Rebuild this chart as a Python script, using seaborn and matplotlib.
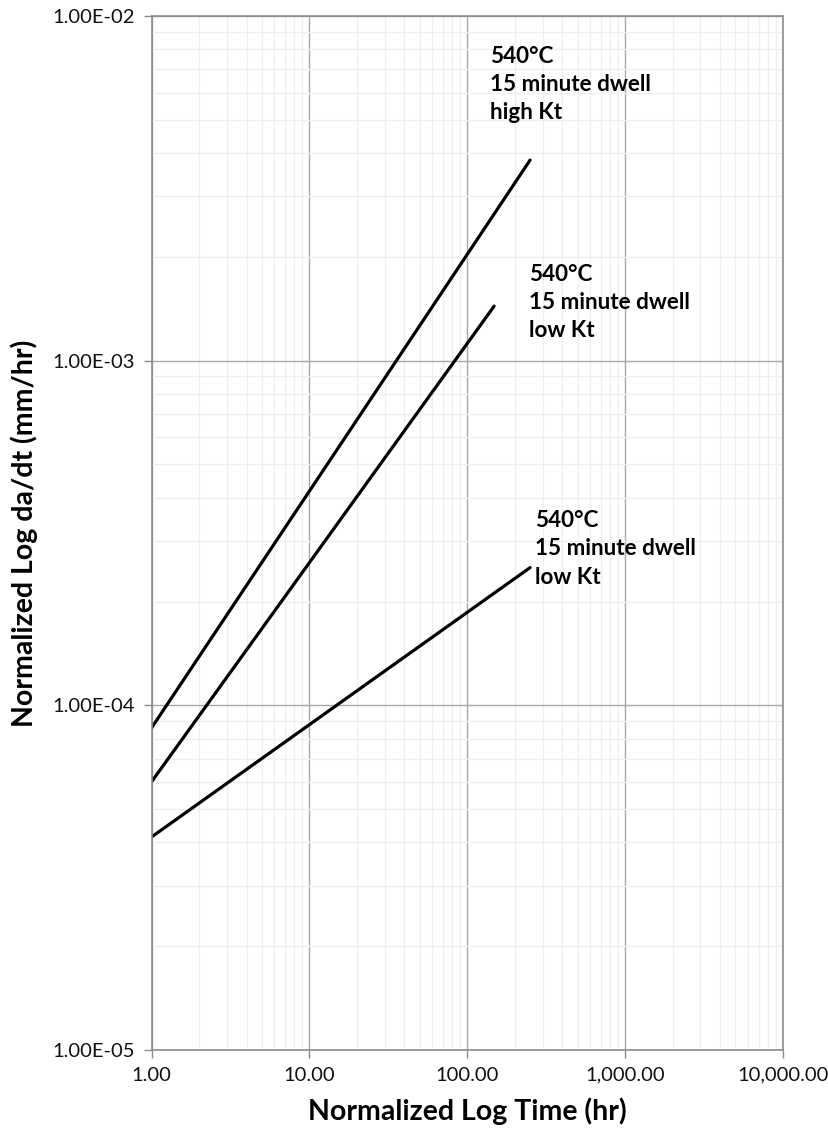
import matplotlib
matplotlib.use("Agg")
import numpy as np
import pandas as pd
import matplotlib.pyplot as plt
import seaborn as sns
from matplotlib.ticker import FixedLocator, FixedFormatter, LogLocator, NullFormatter

# Crack growth rate curves (power-law lines on log-log axes)
curve_names = ["high Kt", "low Kt A", "low Kt B"]
time_start = [1.0, 1.0, 1.0]
time_end = [250.0, 148.0, 250.0]
rate_start = [8.6e-5, 6.0e-5, 4.15e-5]
rate_end = [3.82e-3, 1.44e-3, 2.51e-4]

curve_labels = [
    "540°C\n15 minute dwell\nhigh Kt",
    "540°C\n15 minute dwell\nlow Kt",
    "540°C\n15 minute dwell\nlow Kt",
]

x_ticks = [1, 10, 100, 1000, 10000]
x_ticklabels = ["1.00", "10.00", "100.00", "1,000.00", "10,000.00"]
y_ticks = [1e-5, 1e-4, 1e-3, 1e-2]
y_ticklabels = ["1.00E-05", "1.00E-04", "1.00E-03", "1.00E-02"]

rows = []
for name, t0, t1, r0, r1 in zip(curve_names, time_start, time_end, rate_start, rate_end):
    rows.append({"curve": name, "time": t0, "rate": r0})
    rows.append({"curve": name, "time": t1, "rate": r1})
df = pd.DataFrame(rows)

sns.set_style("white")
plt.rcParams["font.family"] = ["Lato", "DejaVu Sans"]
plt.rcParams["text.color"] = "black"
plt.rcParams["axes.labelcolor"] = "black"

fig = plt.figure(figsize=(8.29, 11.3), dpi=100)
ax = fig.add_axes([0.1828, 0.0708, 0.7617, 0.915])

sns.lineplot(data=df, x="time", y="rate", units="curve", estimator=None,
             color="black", linewidth=2.3, ax=ax, legend=False)

ax.set_xscale("log")
ax.set_yscale("log")
ax.set_xlim(1, 10000)
ax.set_ylim(1e-5, 1e-2)

ax.xaxis.set_major_locator(FixedLocator(x_ticks))
ax.xaxis.set_major_formatter(FixedFormatter(x_ticklabels))
ax.yaxis.set_major_locator(FixedLocator(y_ticks))
ax.yaxis.set_major_formatter(FixedFormatter(y_ticklabels))
ax.xaxis.set_minor_locator(LogLocator(base=10, subs=np.arange(2, 10)))
ax.yaxis.set_minor_locator(LogLocator(base=10, subs=np.arange(2, 10)))
ax.xaxis.set_minor_formatter(NullFormatter())
ax.yaxis.set_minor_formatter(NullFormatter())

ax.grid(which="minor", color="#eeeeee", linewidth=0.9)
ax.grid(which="major", color="#a8a8a8", linewidth=1.0)
ax.set_axisbelow(True)

for s in ax.spines.values():
    s.set_color("#8c8c8c")
    s.set_linewidth(1.2)
ax.tick_params(which="major", direction="out", length=6, width=1.0, color="#8c8c8c",
               labelsize=14.5, pad=6, left=True, bottom=True, labelcolor="#111111")
ax.tick_params(which="minor", length=0)

ax.set_xlabel("Normalized Log Time (hr)", fontsize=20.5, fontweight="bold", labelpad=10)
ax.set_ylabel("Normalized Log da/dt (mm/hr)", fontsize=20.5, fontweight="bold", labelpad=10)

label_anchor = [(0.536, 0.971), (0.598, 0.760), (0.607, 0.522)]
for text, (xa, ya) in zip(curve_labels, label_anchor):
    ax.text(xa, ya, text, transform=ax.transAxes, ha="left", va="top",
            fontsize=16.2, fontweight="bold", linespacing=1.42, color="black")

fig.savefig("out.png", dpi=100)
